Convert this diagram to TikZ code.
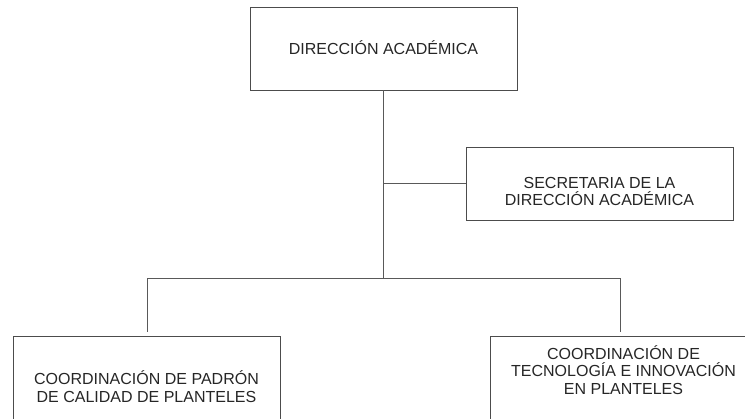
\documentclass[tikz,border=0pt]{standalone}
\usepackage{fontspec}
\setmainfont{Liberation Sans}
\begin{document}
\begin{tikzpicture}[x=0.75pt,y=-0.75pt,
  boxstyle/.style={draw=black!70,line width=0.65pt,fill=white,rectangle,inner sep=0pt},
  txt/.style={font=\fontsize{12}{13.4}\selectfont,text=black!85,align=center,inner sep=0pt},
  wire/.style={draw=black!65,line width=0.65pt}]
\useasboundingbox (0,0) rectangle (745,418);
\clip (0,0) rectangle (745,418);
\node[boxstyle,minimum width=200.25pt,minimum height=62.25pt] (dir) at (383.5,48.5) {};
\node[txt] (dirt) at (383.5,48) {DIRECCIÓN ACADÉMICA};
\node[boxstyle,minimum width=200.25pt,minimum height=54.75pt] (sec) at (599.5,183.5) {};
\node[txt] (sect) at (599.5,191.5) {SECRETARIA DE LA\\DIRECCIÓN ACADÉMICA};
\node[boxstyle,minimum width=200.25pt,minimum height=85.5pt] (pad) at (146.5,393) {};
\node[txt] (padt) at (146.5,386.5) {COORDINACIÓN DE PADRÓN\\DE CALIDAD DE PLANTELES};
\node[boxstyle,minimum width=200.25pt,minimum height=85.5pt] (tec) at (623.5,393) {};
\node[txt] (tect) at (623.5,370) {COORDINACIÓN DE\\TECNOLOGÍA E INNOVACIÓN\\EN PLANTELES};
\coordinate (bus) at (383.5,278);
\coordinate (busl) at (147,278);
\coordinate (busr) at (620,278);
\coordinate (secj) at (383.5,183.5);
\draw[wire] (dir.south) -- (bus);
\draw[wire] (secj) -- (sec.west);
\draw[wire] (busl) -- (busr);
\draw[wire] (busl) -- ([yshift=3pt]busl |- pad.north);
\draw[wire] (busr) -- ([yshift=3pt]busr |- tec.north);
\end{tikzpicture}
\end{document}
